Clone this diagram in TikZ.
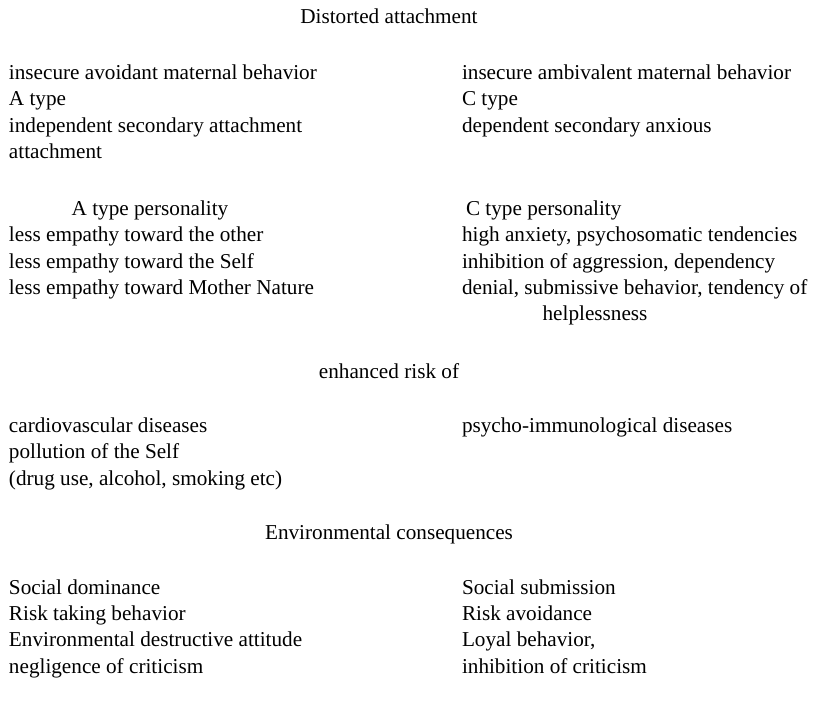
\documentclass[tikz,border=0pt]{standalone}
\usepackage{fontspec}
\setmainfont{Liberation Serif}
\begin{document}
\begin{tikzpicture}[x=1pt,y=-1pt,
  every node/.style={inner sep=0pt,outer sep=0pt,font=\fontsize{21.2}{26}\selectfont},
  lft/.style={anchor=base west},
  ctr/.style={anchor=base}]
\useasboundingbox (0,0) rectangle (813,724);
\def\lx{9}
\def\rx{462}
% heading
\node[ctr] (t1) at (389,23) {Distorted attachment};
% attachment types
\node[lft] (a1) at (\lx,79) {insecure avoidant maternal behavior};
\node[lft] (a2) at (\lx,105) {A type};
\node[lft] (a3) at (\lx,132) {independent secondary attachment};
\node[lft] (a4) at (\lx,158) {attachment};
\node[lft] (c1) at (\rx,79) {insecure ambivalent maternal behavior};
\node[lft] (c2) at (\rx,105) {C type};
\node[lft] (c3) at (\rx,132) {dependent secondary anxious};
% personalities
\node[ctr] (pa) at (150,215) {A type personality};
\node[lft] (pc) at (\rx+4,215) {C type personality};
\node[lft] (pa1) at (\lx,241) {less empathy toward the other};
\node[lft] (pa2) at (\lx,268) {less empathy toward the Self};
\node[lft] (pa3) at (\lx,294) {less empathy toward Mother Nature};
\node[lft] (pc1) at (\rx,241) {high anxiety, psychosomatic tendencies};
\node[lft] (pc2) at (\rx,268) {inhibition of aggression, dependency};
\node[lft] (pc3) at (\rx,294) {denial, submissive behavior, tendency of};
\node[ctr] (pc4) at (595,320) {helplessness};
% risks
\node[ctr] (t2) at (389,378) {enhanced risk of};
\node[lft] (ra1) at (\lx,432) {cardiovascular diseases};
\node[lft] (ra2) at (\lx,458) {pollution of the Self};
\node[lft] (ra3) at (\lx,485) {(drug use, alcohol, smoking etc)};
\node[lft] (rc1) at (\rx,432) {psycho-immunological diseases};
% consequences
\node[ctr] (t3) at (389,539) {Environmental consequences};
\node[lft] (ea1) at (\lx,594) {Social dominance};
\node[lft] (ea2) at (\lx,620) {Risk taking behavior};
\node[lft] (ea3) at (\lx,646) {Environmental destructive attitude};
\node[lft] (ea4) at (\lx,673) {negligence of criticism};
\node[lft] (ec1) at (\rx,594) {Social submission};
\node[lft] (ec2) at (\rx,620) {Risk avoidance};
\node[lft] (ec3) at (\rx,646) {Loyal behavior,};
\node[lft] (ec4) at (\rx,673) {inhibition of criticism};
\end{tikzpicture}
\end{document}
